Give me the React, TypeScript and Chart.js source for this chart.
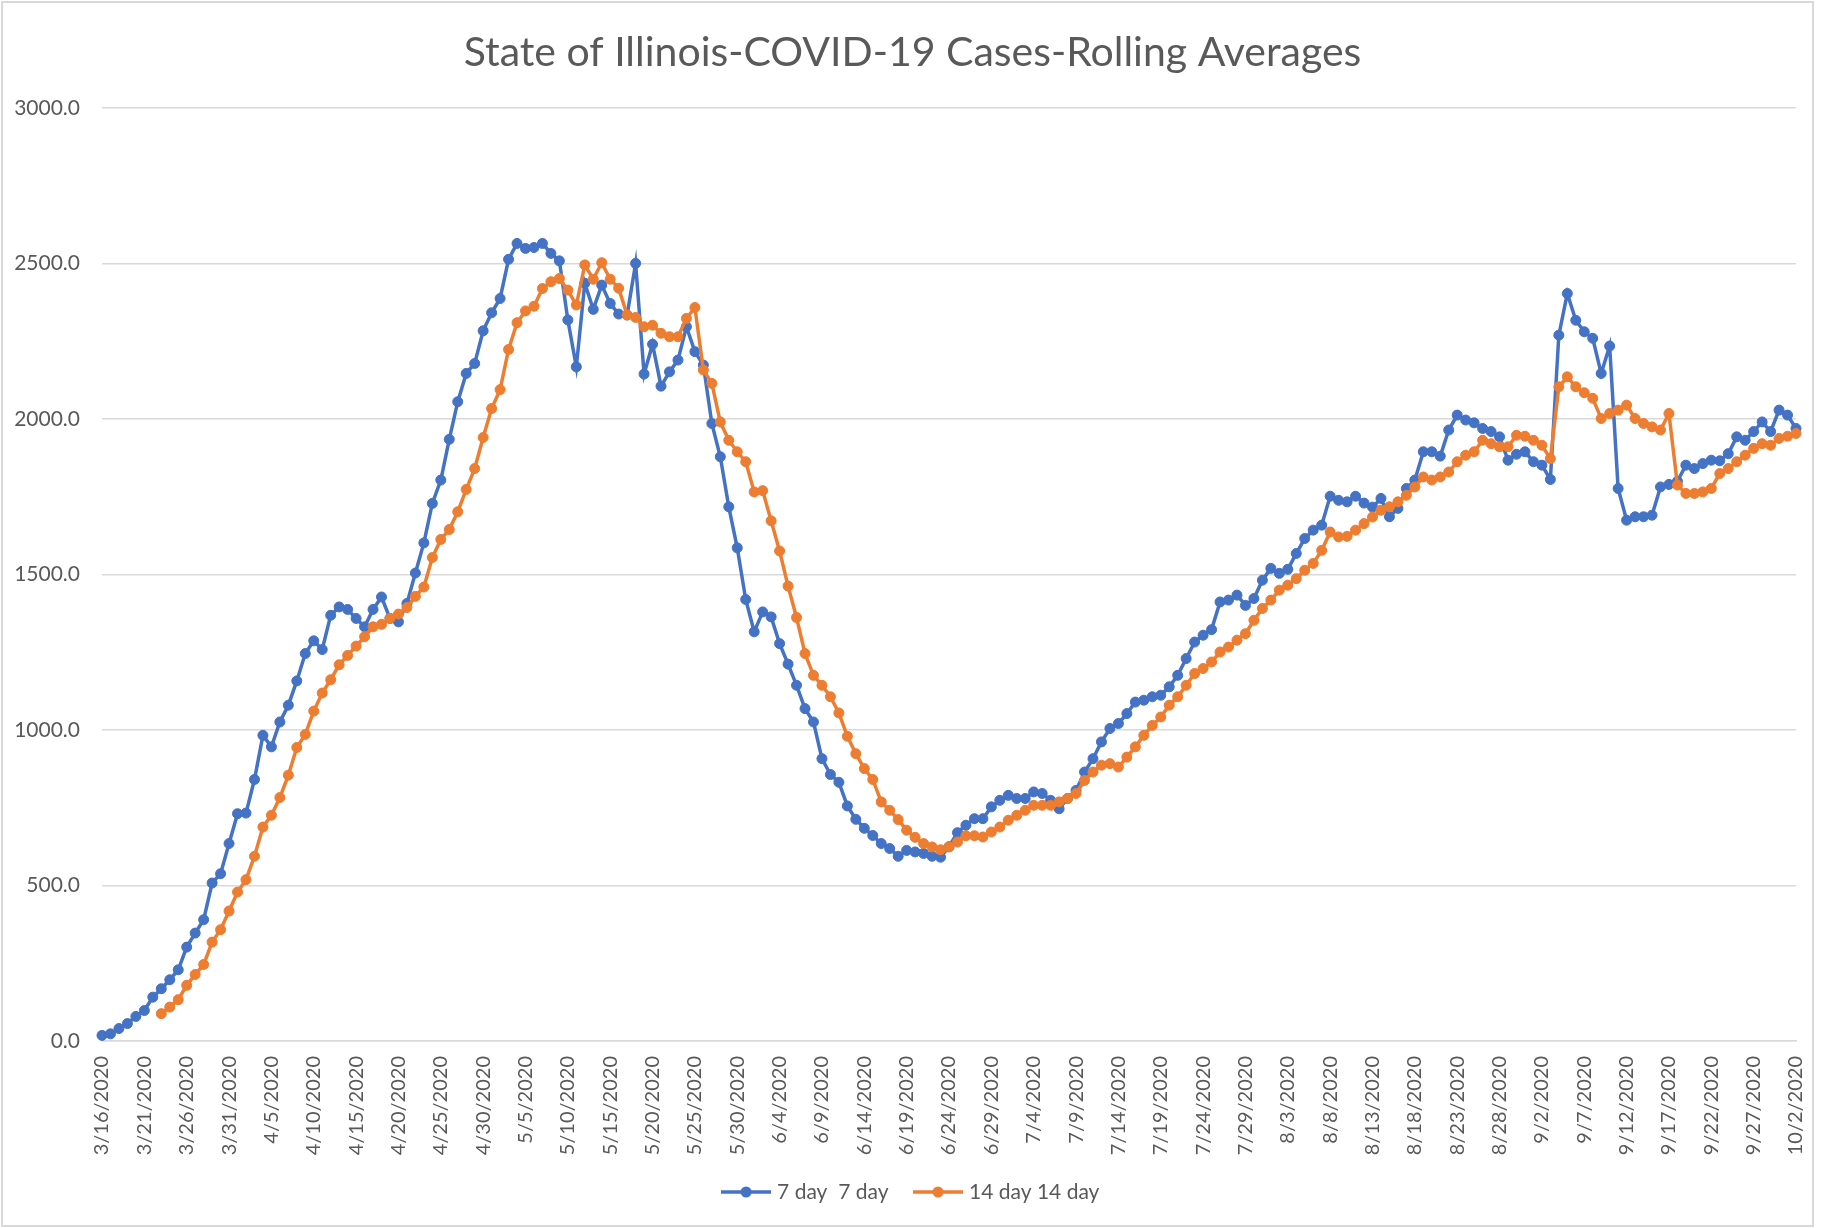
import React, { useEffect, useRef } from "react";
import { Chart, registerables } from "chart.js";

Chart.register(...registerables);

const TITLE = "State of Illinois-COVID-19 Cases-Rolling Averages";

const dates: string[] = [
  "3/16/2020","3/17/2020","3/18/2020","3/19/2020","3/20/2020","3/21/2020","3/22/2020","3/23/2020","3/24/2020","3/25/2020",
  "3/26/2020","3/27/2020","3/28/2020","3/29/2020","3/30/2020","3/31/2020",
  "4/1/2020","4/2/2020","4/3/2020","4/4/2020","4/5/2020","4/6/2020","4/7/2020","4/8/2020","4/9/2020","4/10/2020",
  "4/11/2020","4/12/2020","4/13/2020","4/14/2020","4/15/2020","4/16/2020","4/17/2020","4/18/2020","4/19/2020","4/20/2020",
  "4/21/2020","4/22/2020","4/23/2020","4/24/2020","4/25/2020","4/26/2020","4/27/2020","4/28/2020","4/29/2020","4/30/2020",
  "5/1/2020","5/2/2020","5/3/2020","5/4/2020","5/5/2020","5/6/2020","5/7/2020","5/8/2020","5/9/2020","5/10/2020",
  "5/11/2020","5/12/2020","5/13/2020","5/14/2020","5/15/2020","5/16/2020","5/17/2020","5/18/2020","5/19/2020","5/20/2020",
  "5/21/2020","5/22/2020","5/23/2020","5/24/2020","5/25/2020","5/26/2020","5/27/2020","5/28/2020","5/29/2020","5/30/2020","5/31/2020",
  "6/1/2020","6/2/2020","6/3/2020","6/4/2020","6/5/2020","6/6/2020","6/7/2020","6/8/2020","6/9/2020","6/10/2020",
  "6/11/2020","6/12/2020","6/13/2020","6/14/2020","6/15/2020","6/16/2020","6/17/2020","6/18/2020","6/19/2020","6/20/2020",
  "6/21/2020","6/22/2020","6/23/2020","6/24/2020","6/25/2020","6/26/2020","6/27/2020","6/28/2020","6/29/2020","6/30/2020",
  "7/1/2020","7/2/2020","7/3/2020","7/4/2020","7/5/2020","7/6/2020","7/7/2020","7/8/2020","7/9/2020","7/10/2020",
  "7/11/2020","7/12/2020","7/13/2020","7/14/2020","7/15/2020","7/16/2020","7/17/2020","7/18/2020","7/19/2020","7/20/2020",
  "7/21/2020","7/22/2020","7/23/2020","7/24/2020","7/25/2020","7/26/2020","7/27/2020","7/28/2020","7/29/2020","7/30/2020","7/31/2020",
  "8/1/2020","8/2/2020","8/3/2020","8/4/2020","8/5/2020","8/6/2020","8/7/2020","8/8/2020","8/9/2020","8/10/2020",
  "8/11/2020","8/12/2020","8/13/2020","8/14/2020","8/15/2020","8/16/2020","8/17/2020","8/18/2020","8/19/2020","8/20/2020",
  "8/21/2020","8/22/2020","8/23/2020","8/24/2020","8/25/2020","8/26/2020","8/27/2020","8/28/2020","8/29/2020","8/30/2020","8/31/2020",
  "9/1/2020","9/2/2020","9/3/2020","9/4/2020","9/5/2020","9/6/2020","9/7/2020","9/8/2020","9/9/2020","9/10/2020",
  "9/11/2020","9/12/2020","9/13/2020","9/14/2020","9/15/2020","9/16/2020","9/17/2020","9/18/2020","9/19/2020","9/20/2020",
  "9/21/2020","9/22/2020","9/23/2020","9/24/2020","9/25/2020","9/26/2020","9/27/2020","9/28/2020","9/29/2020","9/30/2020",
  "10/1/2020","10/2/2020",
];

// 7-day rolling average (blue)
const sevenDay: number[] = [
  18, 23, 40, 56, 79, 98, 141, 168, 197, 229,
  302, 347, 390, 508, 538, 635, 731, 733, 841, 983,
  946, 1026, 1080, 1158, 1246, 1287, 1259, 1369, 1396, 1388,
  1359, 1332, 1388, 1428, 1359, 1348, 1407, 1505, 1602, 1729,
  1804, 1935, 2056, 2147, 2179, 2284, 2342, 2388, 2514, 2565,
  2549, 2552, 2565, 2533, 2509, 2319, 2168, 2437, 2353, 2431,
  2372, 2338, 2335, 2501, 2145, 2241, 2106, 2152, 2190, 2297,
  2217, 2174, 1986, 1879, 1718, 1586, 1420, 1316, 1380, 1364,
  1278, 1212, 1144, 1069, 1026, 908, 857, 832, 756, 713,
  684, 661, 635, 619, 594, 613, 608, 603, 594, 591,
  625, 670, 694, 715, 715, 753, 774, 790, 780, 780,
  801, 796, 774, 747, 780, 806, 865, 908, 962, 1005,
  1021, 1053, 1090, 1096, 1107, 1112, 1139, 1176, 1230, 1283,
  1305, 1323, 1412, 1418, 1434, 1401, 1423, 1482, 1520, 1504,
  1517, 1568, 1616, 1643, 1659, 1752, 1739, 1734, 1752, 1730,
  1717, 1745, 1686, 1713, 1777, 1804, 1895, 1895, 1881, 1965,
  2013, 1997, 1988, 1970, 1960, 1943, 1868, 1887, 1895, 1863,
  1852, 1806, 2270, 2404, 2318, 2281, 2260, 2147, 2235, 1777,
  1675, 1686, 1686, 1691, 1782, 1790, 1800, 1852, 1841, 1857,
  1868, 1866, 1889, 1943, 1932, 1960, 1991, 1960, 2029, 2013,
  1970,
];

// 14-day rolling average (orange)
const fourteenDay: (number | null)[] = [
  null, null, null, null, null, null, null, 88, 109, 133,
  179, 214, 246, 318, 358, 418, 479, 519, 594, 688,
  726, 783, 855, 944, 986, 1061, 1119, 1162, 1210, 1240,
  1270, 1300, 1332, 1340, 1359, 1373, 1394, 1430, 1460, 1555,
  1613, 1645, 1702, 1774, 1841, 1941, 2034, 2095, 2224, 2310,
  2348, 2363, 2420, 2442, 2452, 2415, 2367, 2496, 2450, 2503,
  2450, 2421, 2335, 2327, 2297, 2302, 2276, 2265, 2265, 2324,
  2359, 2158, 2115, 1991, 1932, 1895, 1863, 1766, 1770, 1673,
  1576, 1463, 1362, 1246, 1176, 1144, 1107, 1055, 980, 924,
  876, 841, 769, 742, 712, 678, 655, 635, 624, 615,
  624, 640, 660, 660, 656, 672, 688, 710, 726, 742,
  758, 758, 758, 769, 780, 796, 838, 865, 887, 892,
  881, 913, 946, 983, 1015, 1042, 1080, 1107, 1144, 1182,
  1198, 1219, 1251, 1267, 1289, 1310, 1353, 1391, 1418, 1450,
  1466, 1487, 1514, 1536, 1578, 1637, 1621, 1623, 1643, 1664,
  1685, 1707, 1718, 1734, 1755, 1782, 1814, 1804, 1814, 1830,
  1863, 1884, 1895, 1932, 1921, 1911, 1911, 1948, 1945, 1932,
  1916, 1873, 2104, 2136, 2104, 2085, 2067, 2002, 2018, 2029,
  2045, 2002, 1986, 1975, 1965, 2018, 1788, 1761, 1761, 1766,
  1777, 1825, 1841, 1863, 1884, 1906, 1921, 1916, 1938, 1945,
  1954,
];

const seriesNames = ["7 day  7 day", "14 day 14 day"];
const seriesColors = ["#4472C4", "#ED7D31"];
const yTicks = [0, 500, 1000, 1500, 2000, 2500, 3000];
const tickEvery = 5;

const TEXT = "#595959";
const GRID = "#d9d9d9";
const FONT = "Lato, 'Open Sans', sans-serif";

function legendImage(color: string): HTMLCanvasElement {
  const c = document.createElement("canvas");
  c.width = 50;
  c.height = 14;
  const g = c.getContext("2d")!;
  g.strokeStyle = color;
  g.lineWidth = 3.5;
  g.beginPath();
  g.moveTo(0, 7);
  g.lineTo(50, 7);
  g.stroke();
  g.fillStyle = color;
  g.beginPath();
  g.arc(25, 7, 5.5, 0, Math.PI * 2);
  g.fill();
  return c;
}

const framePlugin = {
  id: "frame",
  beforeDraw(chart: any) {
    const { ctx, width, height } = chart;
    ctx.save();
    ctx.fillStyle = "#ffffff";
    ctx.fillRect(0, 0, width, height);
    ctx.strokeStyle = GRID;
    ctx.lineWidth = 2;
    ctx.strokeRect(2, 2, width - 14, height - 4);
    ctx.restore();
  },
};

export default function App() {
  const ref = useRef<HTMLCanvasElement | null>(null);

  useEffect(() => {
    if (!ref.current) return;
    const imgs = seriesColors.map(legendImage);
    const chart = new Chart(ref.current, {
      type: "line",
      data: {
        labels: dates,
        datasets: [
          {
            label: seriesNames[0],
            data: sevenDay,
            borderColor: seriesColors[0],
            backgroundColor: seriesColors[0],
            pointBackgroundColor: seriesColors[0],
            pointBorderColor: seriesColors[0],
            borderWidth: 3.5,
            pointRadius: 5,
            pointBorderWidth: 1,
            tension: 0,
            order: 1,
          },
          {
            label: seriesNames[1],
            data: fourteenDay,
            borderColor: seriesColors[1],
            backgroundColor: seriesColors[1],
            pointBackgroundColor: seriesColors[1],
            pointBorderColor: seriesColors[1],
            borderWidth: 3.5,
            pointRadius: 5,
            pointBorderWidth: 1,
            tension: 0,
            order: 0,
          },
        ],
      },
      options: {
        responsive: false,
        animation: false,
        events: [],
        layout: { padding: { left: 0, right: 0, top: 0, bottom: 15.5 } },
        plugins: {
          tooltip: { enabled: false },
          title: {
            display: true,
            text: TITLE,
            color: TEXT,
            font: { family: FONT, size: 41, weight: "normal" },
            padding: { top: 28, bottom: 31 },
          },
          legend: {
            display: true,
            position: "bottom",
            labels: {
              usePointStyle: true,
              pointStyleWidth: 41,
              padding: 29,
              color: TEXT,
              font: { family: FONT, size: 21 },
              generateLabels: () =>
                seriesNames.map((t, i) => ({
                  text: t,
                  pointStyle: imgs[i],
                  fillStyle: seriesColors[i],
                  strokeStyle: seriesColors[i],
                  lineWidth: 0,
                  hidden: false,
                  datasetIndex: i,
                  fontColor: TEXT,
                })),
            },
          },
        },
        scales: {
          x: {
            type: "category",
            offset: false,
            grid: { display: false, drawTicks: false },
            border: { display: true, color: GRID, width: 1.5 },
            ticks: {
              autoSkip: false,
              minRotation: 90,
              maxRotation: 90,
              padding: 15,
              color: TEXT,
              font: { family: FONT, size: 20 },
              callback: function (this: any, value: any, index: number) {
                return index % tickEvery === 0 ? dates[index] : "";
              },
            },
            afterFit(scale: any) {
              scale.height = 111.5;
              scale.paddingLeft = 0;
              scale.paddingRight = 0;
              scale._computeLabelArea = () => undefined;
            },
          },
          y: {
            min: yTicks[0],
            max: yTicks[yTicks.length - 1],
            grid: { color: GRID, lineWidth: 1.5, drawTicks: false },
            border: { display: false },
            afterBuildTicks(scale: any) {
              scale.ticks = yTicks.map((v) => ({ value: v }));
            },
            ticks: {
              padding: 22,
              color: TEXT,
              font: { family: FONT, size: 21 },
              callback: (v: any) => Number(v).toFixed(1),
            },
            afterFit(scale: any) {
              scale.width = 102;
            },
          },
          yRight: {
            position: "right",
            display: true,
            min: yTicks[0],
            max: yTicks[yTicks.length - 1],
            grid: { display: false, drawTicks: false },
            border: { display: false },
            ticks: { display: false },
            afterFit(scale: any) {
              scale.width = 29;
              scale.paddingTop = 0;
              scale.paddingBottom = 0;
            },
          },
        },
      },
      plugins: [framePlugin],
    });
    return () => chart.destroy();
  }, []);

  return (
    <div style={{ position: "absolute", left: 0, top: 0, width: 1825, height: 1228, background: "#fff" }}>
      <canvas ref={ref} width={1825} height={1228} style={{ display: "block" }} />
    </div>
  );
}
